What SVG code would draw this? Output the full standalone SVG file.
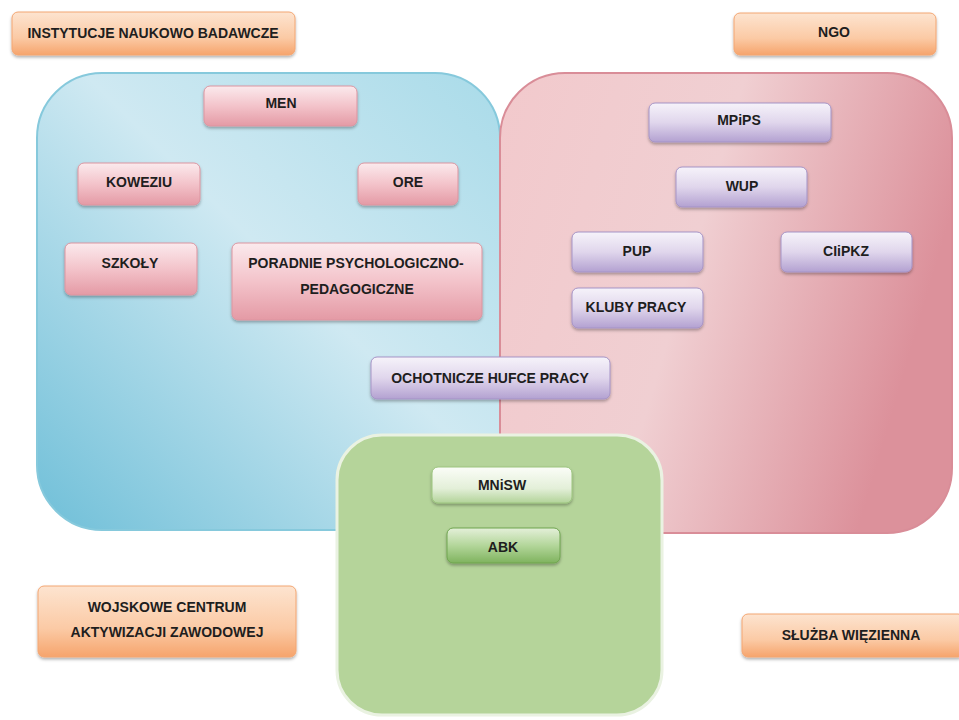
<svg xmlns="http://www.w3.org/2000/svg" width="959" height="720" viewBox="0 0 959 720">
<defs>
<linearGradient id="gBlue" x1="0" y1="1" x2="1" y2="0">
<stop offset="0" stop-color="#6fbfd8"/>
<stop offset="0.55" stop-color="#cfe9f2"/>
<stop offset="1" stop-color="#a9dbe9"/>
</linearGradient>
<linearGradient id="gPinkC" x1="0" y1="0" x2="1" y2="0.3">
<stop offset="0" stop-color="#f2c9cc"/>
<stop offset="0.5" stop-color="#f0cfd2"/>
<stop offset="1" stop-color="#dc919b"/>
</linearGradient>
<linearGradient id="gOrange" x1="0" y1="0" x2="0" y2="1">
<stop offset="0" stop-color="#fde4d0"/>
<stop offset="0.6" stop-color="#fbcaa5"/>
<stop offset="1" stop-color="#f6a46c"/>
</linearGradient>
<linearGradient id="gPink" x1="0" y1="0" x2="0" y2="1">
<stop offset="0" stop-color="#fbeaed"/>
<stop offset="0.5" stop-color="#f3c3ca"/>
<stop offset="1" stop-color="#e49aa5"/>
</linearGradient>
<linearGradient id="gPurple" x1="0" y1="0" x2="0" y2="1">
<stop offset="0" stop-color="#f6f3fa"/>
<stop offset="0.5" stop-color="#e0d6ec"/>
<stop offset="1" stop-color="#b3a1d1"/>
</linearGradient>
<linearGradient id="gGreenL" x1="0" y1="0" x2="0" y2="1">
<stop offset="0" stop-color="#fbfdf8"/>
<stop offset="0.6" stop-color="#e3efd8"/>
<stop offset="1" stop-color="#b2d399"/>
</linearGradient>
<linearGradient id="gGreenD" x1="0" y1="0" x2="0" y2="1">
<stop offset="0" stop-color="#e4f0d9"/>
<stop offset="0.5" stop-color="#b3d69a"/>
<stop offset="1" stop-color="#7fb35e"/>
</linearGradient>
<filter id="sh" x="-10%" y="-20%" width="120%" height="150%">
<feDropShadow dx="0" dy="2" stdDeviation="1.5" flood-color="#000" flood-opacity="0.3"/>
</filter>
</defs>
<style>
text{font-family:"Liberation Sans",Arial,sans-serif;font-weight:bold;font-size:14px;fill:#1e1e1e;text-anchor:middle}
.b{rx:6px;ry:6px;filter:url(#sh)}
.or{fill:url(#gOrange);stroke:#f3a672;stroke-width:1}
.pk{fill:url(#gPink);stroke:#dc95a0;stroke-width:1}
.pu{fill:url(#gPurple);stroke:#a593c6;stroke-width:1}
.gl{fill:url(#gGreenL);stroke:#9cc47f;stroke-width:1}
.gd{fill:url(#gGreenD);stroke:#6fa44f;stroke-width:1}
</style>
<rect width="959" height="720" fill="#ffffff"/>
<g id="container-men">
<rect x="37" y="73" width="463" height="457" rx="65" ry="65" fill="url(#gBlue)" stroke="#86c9dc" stroke-width="2"/>
</g>
<g id="container-mpips">
<rect x="500" y="73" width="452" height="460" rx="65" ry="65" fill="url(#gPinkC)" stroke="#d98d98" stroke-width="2"/>
</g>
<g id="container-mnisw">
<rect x="337" y="435" width="325" height="280" rx="45" ry="45" fill="#b5d49a" stroke="#eaf2e2" stroke-width="3"/>
</g>
<g id="connectors"></g>
<g id="instytucje"><rect class="b or" x="12" y="12" width="283" height="43"/><text x="153" y="38">INSTYTUCJE NAUKOWO BADAWCZE</text></g>
<g id="ngo"><rect class="b or" x="734" y="13" width="202" height="42"/><text x="834" y="37">NGO</text></g>
<g id="wojskowe"><rect class="b or" x="38" y="586" width="258" height="71"/><text x="167" y="612">WOJSKOWE CENTRUM</text><text x="167" y="637">AKTYWIZACJI ZAWODOWEJ</text></g>
<g id="sluzba"><rect class="b or" x="742" y="614" width="222" height="43"/><text x="851" y="640">SŁUŻBA WIĘZIENNA</text></g>
<g id="men"><rect class="b pk" x="204" y="86" width="153" height="40"/><text x="281" y="108">MEN</text></g>
<g id="koweziu"><rect class="b pk" x="78" y="163" width="122" height="42"/><text x="139" y="187">KOWEZIU</text></g>
<g id="ore"><rect class="b pk" x="358" y="163" width="100" height="42"/><text x="408" y="187">ORE</text></g>
<g id="szkoly"><rect class="b pk" x="65" y="243" width="132" height="52"/><text x="130" y="268">SZKOŁY</text></g>
<g id="poradnie"><rect class="b pk" x="232" y="243" width="250" height="77"/><text x="356" y="268">PORADNIE PSYCHOLOGICZNO-</text><text x="357" y="294">PEDAGOGICZNE</text></g>
<g id="mpips"><rect class="b pu" x="649" y="103" width="182" height="39"/><text x="739" y="125">MPiPS</text></g>
<g id="wup"><rect class="b pu" x="676" y="167" width="131" height="40"/><text x="742" y="191">WUP</text></g>
<g id="pup"><rect class="b pu" x="572" y="232" width="131" height="40"/><text x="637" y="256">PUP</text></g>
<g id="ciipkz"><rect class="b pu" x="781" y="232" width="131" height="40"/><text x="846" y="256">CIiPKZ</text></g>
<g id="kluby"><rect class="b pu" x="572" y="288" width="131" height="40"/><text x="636" y="312">KLUBY PRACY</text></g>
<g id="ohp"><rect class="b pu" x="371" y="357" width="239" height="42"/><text x="490" y="383">OCHOTNICZE HUFCE PRACY</text></g>
<g id="mnisw"><rect class="b gl" x="432" y="467" width="140" height="36"/><text x="502" y="490">MNiSW</text></g>
<g id="abk"><rect class="b gd" x="447" y="528" width="113" height="35"/><text x="503" y="552">ABK</text></g>
</svg>
